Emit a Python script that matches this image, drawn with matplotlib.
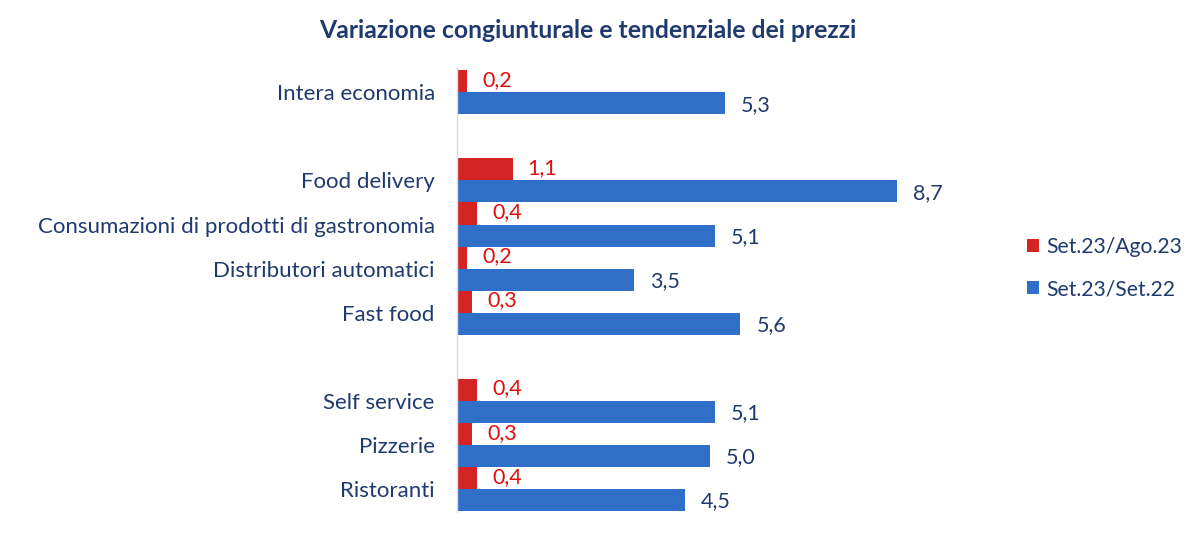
import matplotlib
matplotlib.use("Agg")
import matplotlib.pyplot as plt
import numpy as np

categories = ["Intera economia", "", "Food delivery",
              "Consumazioni di prodotti di gastronomia",
              "Distributori automatici", "Fast food", "",
              "Self service", "Pizzerie", "Ristoranti"]
cong = [0.2, None, 1.1, 0.4, 0.2, 0.3, None, 0.4, 0.3, 0.4]
tend = [5.3, None, 8.7, 5.1, 3.5, 5.6, None, 5.1, 5.0, 4.5]
series_names = ["Set.23/Ago.23", "Set.23/Set.22"]
title = "Variazione congiunturale e tendenziale dei prezzi"

RED = "#D42424"
BLUE = "#2F6FC8"
NAVY = "#1F3A6E"
LRED = "#E00F0F"

plt.rcParams['font.family'] = ['Lato', 'DejaVu Sans']

fig = plt.figure(figsize=(12, 5.34), dpi=100)
ax = fig.add_axes([457/1200, 22/534, 506/1200, 444/534])

pos = np.arange(len(categories))
h = 0.5
for i, (c, t) in enumerate(zip(cong, tend)):
    if c is None:
        continue
    ax.barh(i - h/2, c, height=h, color=RED, edgecolor="none",
            label=series_names[0] if i == 0 else None)
    ax.barh(i + h/2, t, height=h, color=BLUE, edgecolor="none",
            label=series_names[1] if i == 0 else None)
    ax.annotate(f"{c:.1f}".replace(".", ","), (c, i - h/2 - 0.03), xytext=(15, 0),
                textcoords="offset pixels", va="center", ha="left",
                color=LRED, fontsize=15.5)
    ax.annotate(f"{t:.1f}".replace(".", ","), (t, i + h/2 + 0.03), xytext=(16, 0),
                textcoords="offset pixels", va="center", ha="left",
                color=NAVY, fontsize=15.5)

ax.set_xlim(0, 10)
ax.set_ylim(9.52, -0.55)
ax.set_yticks([p for p, c in zip(pos, categories) if c])
ax.set_yticklabels([c for c in categories if c], color=NAVY, fontsize=16)
ax.tick_params(axis="y", length=0, pad=16)
ax.set_xticks([])
for s in ["top", "right", "bottom"]:
    ax.spines[s].set_visible(False)
ax.spines["left"].set_color("#D5DCE8")
ax.spines["left"].set_linewidth(1)

fig.text(0.49, 0.943, title, ha="center", va="center", color=NAVY,
         fontsize=17.8, fontweight="bold")

leg = fig.legend(loc="center left", bbox_to_anchor=(1008/1200, 266/534),
                 frameon=False, fontsize=15.2, handlelength=0.55, handleheight=0.55,
                 handletextpad=0.35, labelspacing=1.05, labelcolor=NAVY)

fig.savefig("out.png", dpi=100)
